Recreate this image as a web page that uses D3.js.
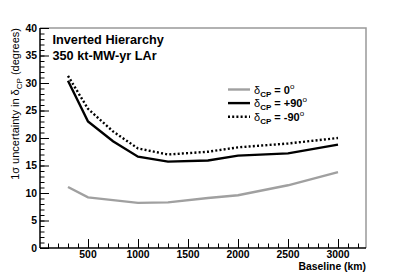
<!DOCTYPE html>
<html>
<head>
<meta charset="utf-8">
<script src="https://cdn.jsdelivr.net/npm/d3@7"></script>
<style>
 body { margin: 0; background: #fff; }
 text { font-family: "Liberation Sans", Arial, sans-serif; }
</style>
</head>
<body>
<div id="chart"></div>
<script>
// data
const baselines = [300, 500, 750, 1000, 1300, 1700, 2000, 2500, 3000];
const dcp0 = [11.1, 9.2, 8.7, 8.2, 8.3, 9.1, 9.6, 11.4, 13.8];
const dcpPlus90 = [30.4, 23.0, 19.4, 16.6, 15.7, 15.9, 16.8, 17.2, 18.8];
const dcpMinus90 = [31.3, 25.3, 21.2, 18.1, 17.0, 17.5, 18.3, 19.0, 20.0];
const xTicks = [500, 1000, 1500, 2000, 2500, 3000];
const yTicks = [0, 5, 10, 15, 20, 25, 30, 35, 40];

const W = 407, H = 276;
const svg = d3.select("#chart").append("svg")
  .attr("width", W).attr("height", H);

const x = d3.scaleLinear().domain([20, 3280]).range([40, 366]);
const y = d3.scaleLinear().domain([0, 40]).range([248, 28]);

// frame (top and right in grey)
svg.append("path")
  .attr("d", `M${x.range()[0]},${y(40)}H${x.range()[1]}V${y(0)}`)
  .attr("fill", "none").attr("stroke", "#999").attr("stroke-width", 1.5);

// y axis
const yAxis = svg.append("g").attr("transform", `translate(${x.range()[0]},0)`);
yAxis.append("g")
  .call(d3.axisRight(y).tickValues(d3.range(0, 41, 1)).tickSize(4.5).tickFormat(""))
  .call(g => g.select(".domain").remove());
yAxis.append("g")
  .call(d3.axisRight(y).tickValues(yTicks).tickSize(9).tickFormat(""))
  .call(g => g.select(".domain").remove());
yAxis.append("line").attr("y1", y(0)).attr("y2", y(40)).attr("stroke", "#000").attr("stroke-width", 1.5);
yAxis.selectAll(".lbl").data(yTicks).join("text")
  .attr("x", -3).attr("y", d => y(d)).attr("dy", "0.36em")
  .attr("text-anchor", "end").attr("font-size", 10.4).attr("font-weight", "bold")
  .text(d => d);

// x axis
const xAxis = svg.append("g").attr("transform", `translate(0,${y(0)})`);
xAxis.append("g")
  .call(d3.axisTop(x).tickValues(d3.range(100, 3201, 100)).tickSize(4.5).tickFormat(""))
  .call(g => g.select(".domain").remove());
xAxis.append("g")
  .call(d3.axisTop(x).tickValues(xTicks).tickSize(9).tickFormat(""))
  .call(g => g.select(".domain").remove());
xAxis.append("line").attr("x1", x.range()[0]).attr("x2", x.range()[1]).attr("stroke", "#000").attr("stroke-width", 1.5);
xAxis.selectAll(".lbl").data(xTicks).join("text")
  .attr("x", d => x(d)).attr("y", 10)
  .attr("text-anchor", "middle").attr("font-size", 10.4).attr("font-weight", "bold")
  .text(d => d);

svg.append("text")
  .attr("x", 366).attr("y", 269.5)
  .attr("text-anchor", "end").attr("font-size", 10.4).attr("font-weight", "bold")
  .text("Baseline (km)");

// y title
const yt = svg.append("text")
  .attr("transform", `translate(19,${y(40)}) rotate(-90)`)
  .attr("text-anchor", "end").attr("font-size", 11);
yt.append("tspan").text("1σ uncertainty in δ");
yt.append("tspan").attr("font-size", 8).attr("dy", 3).text("CP");
yt.append("tspan").attr("dy", -3).text(" (degrees)");

// title
svg.append("text").attr("x", 52.5).attr("y", 43.5)
  .attr("font-size", 12.7).attr("font-weight", "bold").text("Inverted Hierarchy");
svg.append("text").attr("x", 52.5).attr("y", 59.5)
  .attr("font-size", 12.7).attr("font-weight", "bold").text("350 kt-MW-yr LAr");

// series
const series = [
  {name: "0", values: dcp0, color: "#a0a0a0", dash: null},
  {name: "+90", values: dcpPlus90, color: "#000", dash: null},
  {name: "-90", values: dcpMinus90, color: "#000", dash: "2,2.2"}
];
const line = d3.line().x((d, i) => x(baselines[i])).y(d => y(d));

svg.selectAll(".series").data(series).join("path")
  .attr("d", d => line(d.values))
  .attr("fill", "none")
  .attr("stroke", d => d.color)
  .attr("stroke-width", 2.4)
  .attr("stroke-dasharray", d => d.dash);

// legend
const legend = svg.append("g");
const rows = legend.selectAll("g").data(series).join("g")
  .attr("transform", (d, i) => `translate(228,${89.5 + i * 13.6})`);
rows.append("line").attr("x1", 0).attr("x2", 22)
  .attr("stroke", d => d.color).attr("stroke-width", 2.4)
  .attr("stroke-dasharray", d => d.dash);
const lt = rows.append("text").attr("x", 26).attr("y", 4)
  .attr("font-size", 11).attr("font-weight", "bold");
lt.append("tspan").attr("font-weight", "normal").text("δ");
lt.append("tspan").attr("font-size", 8).attr("dy", 3).text("CP");
lt.append("tspan").attr("dy", -3).text(d => " = " + d.name);
lt.append("tspan").attr("font-size", 8).attr("font-weight", "normal").attr("dy", -5).text("o");
</script>
</body>
</html>
